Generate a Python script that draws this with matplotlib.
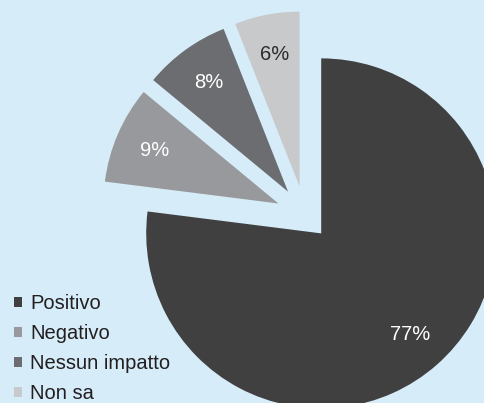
import matplotlib
matplotlib.use("Agg")
import matplotlib.pyplot as plt

# Data
labels = ["Positivo", "Negativo", "Nessun impatto", "Non sa"]
shares = [77, 9, 8, 6]
colors = ["#404040", "#98999c", "#6c6d70", "#c8c9cb"]
label_colors = ["white", "white", "white", "#2b2b2b"]
explode = [0.14, 0.165, 0.165, 0.165]

plt.rcParams["font.family"] = ["Liberation Sans", "DejaVu Sans"]
bg = "#d6edf9"

fig = plt.figure(figsize=(4.85, 4.03), dpi=100, facecolor=bg)
ax = fig.add_axes([0, 0, 1, 1])
ax.set_facecolor(bg)

wedges, texts, autotexts = ax.pie(
    shares, colors=colors, explode=explode, startangle=90, counterclock=False,
    autopct=lambda p: f"{p:.0f}%", pctdistance=0.77,
    wedgeprops=dict(linewidth=0), textprops=dict(fontsize=14.5))
for t, c in zip(autotexts, label_colors):
    t.set_color(c)

# pie is bigger than the frame, centre at ~(305, 215) px, radius ~175 px
r = 175.0
ax.set_aspect("auto")
ax.set_xlim(-305 / r, (485 - 305) / r)
ax.set_ylim(-(403 - 215) / r, 215 / r)
ax.axis("off")

leg = ax.legend(wedges, labels, loc="lower left", bbox_to_anchor=(14 / 485, 0 / 403),
                bbox_transform=fig.transFigure, frameon=False, fontsize=14.5,
                handlelength=0.4, handleheight=0.4, handletextpad=0.4,
                labelspacing=0.54, borderpad=0, borderaxespad=0)
for t in leg.get_texts():
    t.set_color("#231f20")

fig.savefig("out.png", dpi=100, facecolor=bg)
